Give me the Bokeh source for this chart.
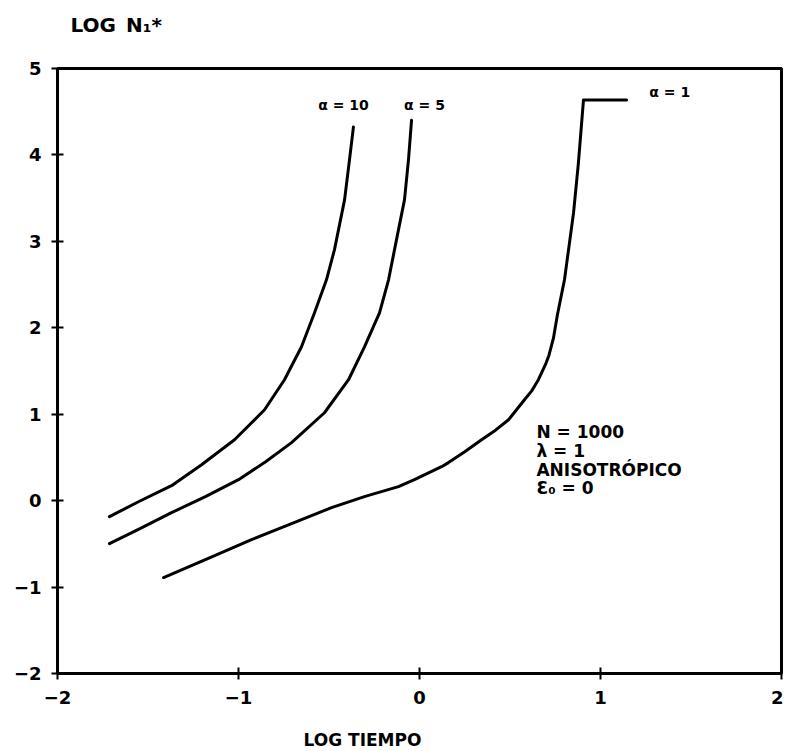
from bokeh.plotting import figure
from bokeh.models import Range1d, FixedTicker, Label, Title
from bokeh.embed import file_html
from bokeh.resources import INLINE

# Curves (log tiempo, log N1*)
alpha10_x = [-1.713, -1.55, -1.370, -1.204, -1.022, -0.856, -0.746, -0.652, -0.580, -0.514, -0.470, -0.414, -0.387, -0.365]
alpha10_y = [-0.185, -0.01, 0.173, 0.416, 0.705, 1.052, 1.399, 1.780, 2.173, 2.555, 2.902, 3.480, 3.940, 4.324]

alpha5_x = [-1.713, -1.55, -1.370, -1.180, -1.000, -0.850, -0.707, -0.525, -0.392, -0.304, -0.221, -0.171, -0.127, -0.083, -0.061, -0.044]
alpha5_y = [-0.497, -0.33, -0.139, 0.050, 0.243, 0.450, 0.671, 1.017, 1.399, 1.780, 2.173, 2.555, 3.020, 3.480, 3.940, 4.400]

alpha1_x = [-1.414, -1.17, -0.928, -0.70, -0.486, -0.30, -0.116, -0.028, 0.122, 0.160, 0.250, 0.343, 0.420, 0.492, 0.580, 0.620, 0.657, 0.695, 0.715, 0.740, 0.762, 0.801, 0.851, 0.878, 0.906, 1.144]
alpha1_y = [-0.890, -0.67, -0.451, -0.26, -0.081, 0.05, 0.162, 0.243, 0.393, 0.440, 0.565, 0.705, 0.815, 0.936, 1.168, 1.270, 1.399, 1.570, 1.680, 1.880, 2.150, 2.555, 3.329, 3.908, 4.636, 4.636]

x_ticks = [-2, -1, 0, 1, 2]
y_ticks = [-2, -1, 0, 1, 2, 3, 4, 5]

curve_labels = ["\u03b1 = 10", "\u03b1 = 5", "\u03b1 = 1"]
curve_label_x = [-0.56, -0.085, 1.27]
curve_label_y = [4.58, 4.58, 4.73]

note_lines = ["N = 1000", "\u03bb = 1", "ANISOTR\u00d3PICO", "\u0190\u2080 = 0"]
note_y = [0.80, 0.57, 0.35, 0.15]

x_title = "LOG TIEMPO"
y_title = "LOG\u2002N\u2081*"

FONT = "DejaVu Sans"

p = figure(width=783, height=751, output_backend="svg", toolbar_location=None,
           x_range=Range1d(-2, 2), y_range=Range1d(-2, 5),
           min_border_left=57, min_border_right=2, min_border_top=68, min_border_bottom=78)
p.grid.visible = False
p.outline_line_color = "black"
p.outline_line_width = 3
p.background_fill_color = "white"
p.border_fill_color = "white"

for ax in (p.xaxis[0], p.yaxis[0]):
    ax.axis_line_width = 3
    ax.axis_line_color = "black"
    ax.major_tick_line_width = 2
    ax.major_tick_in = 6
    ax.major_tick_out = 6
    ax.minor_tick_line_color = None
    ax.major_label_text_font = FONT
    ax.major_label_text_font_style = "bold"
    ax.major_label_text_font_size = "18px"
    ax.major_label_text_color = "black"

p.xaxis.ticker = FixedTicker(ticks=x_ticks)
p.yaxis.ticker = FixedTicker(ticks=y_ticks)
p.xaxis.major_label_standoff = 11
p.yaxis.major_label_standoff = 10

for xs, ys in ((alpha10_x, alpha10_y), (alpha5_x, alpha5_y), (alpha1_x, alpha1_y)):
    p.line(xs, ys, line_color="black", line_width=3, line_join="round", line_cap="round")

for t, lx, ly in zip(curve_labels, curve_label_x, curve_label_y):
    p.add_layout(Label(x=lx, y=ly, text=t, text_font=FONT, text_font_style="bold",
                       text_font_size="14px", text_baseline="middle", text_color="black"))

for t, ly in zip(note_lines, note_y):
    p.add_layout(Label(x=0.646, y=ly, text=t, text_font=FONT, text_font_style="bold",
                       text_font_size="17px", text_baseline="middle", text_color="black"))

# titles: an empty second line reserves space so the text sits away from the frame
p.title = Title(text=y_title + "\n ", align="left", offset=13, standoff=16,
                text_font=FONT, text_font_style="bold", text_font_size="20px", text_color="black")
p.add_layout(Title(text=" \n" + x_title, align="left", offset=246, standoff=2,
                   text_font=FONT, text_font_style="bold", text_font_size="17px", text_color="black"), "below")

open("out.html", "w").write(file_html(p, INLINE))
